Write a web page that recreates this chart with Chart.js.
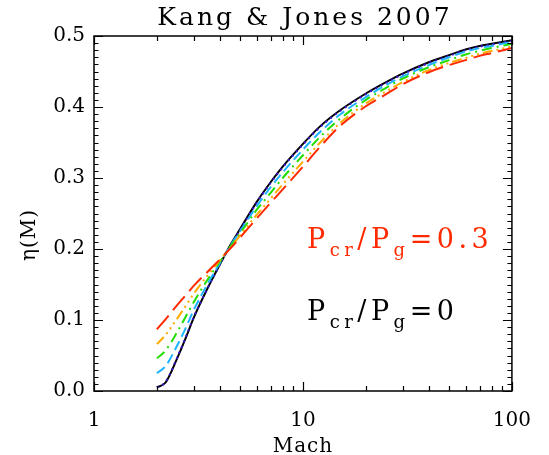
<!DOCTYPE html>
<html>
<head>
<meta charset="utf-8">
<script src="https://cdn.jsdelivr.net/npm/chart.js@4/dist/chart.umd.min.js"></script>
<style>
  html, body { margin: 0; padding: 0; background: #fff; }
  #wrap { width: 549px; height: 455px; }
</style>
</head>
<body>
<div id="wrap"><canvas id="etaChart" width="549" height="455"></canvas></div>
<script>
// ===== Data =====
const mach = [2, 2.2, 2.5, 2.75, 3, 3.5, 4, 4.5, 5, 6, 7, 8, 10, 12, 15, 20, 25, 30, 40, 50, 60, 70, 80, 100];

const etaBlack  = [0.005, 0.012, 0.046, 0.075, 0.103, 0.145, 0.178, 0.206, 0.228, 0.266, 0.294, 0.316, 0.348, 0.372, 0.395, 0.419, 0.435, 0.447, 0.463, 0.473, 0.481, 0.486, 0.489, 0.494];
const etaNavy   = [0.005, 0.013, 0.047, 0.076, 0.104, 0.145, 0.178, 0.205, 0.227, 0.265, 0.293, 0.315, 0.347, 0.371, 0.394, 0.418, 0.434, 0.446, 0.462, 0.472, 0.480, 0.485, 0.488, 0.493];
const etaCyan   = [0.025, 0.035, 0.064, 0.089, 0.114, 0.151, 0.180, 0.205, 0.225, 0.260, 0.287, 0.308, 0.340, 0.364, 0.389, 0.414, 0.431, 0.443, 0.459, 0.470, 0.478, 0.483, 0.486, 0.492];
const etaGreen  = [0.046, 0.057, 0.083, 0.105, 0.125, 0.157, 0.182, 0.204, 0.222, 0.255, 0.279, 0.300, 0.332, 0.357, 0.383, 0.410, 0.427, 0.440, 0.456, 0.466, 0.474, 0.479, 0.483, 0.489];
const etaOrange = [0.066, 0.079, 0.102, 0.120, 0.137, 0.163, 0.184, 0.202, 0.219, 0.248, 0.271, 0.291, 0.323, 0.349, 0.377, 0.405, 0.422, 0.435, 0.452, 0.462, 0.469, 0.475, 0.479, 0.485];
const etaRed    = [0.087, 0.101, 0.121, 0.135, 0.148, 0.168, 0.185, 0.201, 0.216, 0.243, 0.265, 0.284, 0.316, 0.343, 0.373, 0.401, 0.418, 0.432, 0.449, 0.459, 0.466, 0.472, 0.476, 0.483];

const xMajorTicks = [1, 10, 100];
const yMajorTicks = [0.0, 0.1, 0.2, 0.3, 0.4, 0.5];

const titleText = 'Kang & Jones 2007';
const xTitle = 'Mach';
const yTitle = 'η(M)';

// ===== Helpers =====
const SERIF = '"DejaVu Serif", "Liberation Serif", serif';
const toPoints = (ys) => mach.map((m, i) => ({ x: m, y: ys[i] }));

function line(label, ys, color, dash, order, width = 2) {
  return {
    label, data: toPoints(ys),
    borderColor: color, backgroundColor: color,
    borderWidth: width, borderDash: dash,
    pointRadius: 0, fill: false,
    cubicInterpolationMode: 'monotone',
    order
  };
}

// draws text with subscripts, parts = [[text, isSub], ...]
function drawRich(ctx, parts, x, y, size, color) {
  ctx.fillStyle = color;
  ctx.textAlign = 'left';
  ctx.textBaseline = 'alphabetic';
  parts.forEach(([t, sub]) => {
    ctx.font = `${sub ? Math.round(size * 0.68) : size}px ${SERIF}`;
    ctx.fillText(t, x, sub ? y + size * 0.3 : y);
    x += ctx.measureText(t).width;
  });
}

// ===== Frame, IDL-style inward ticks and texts =====
const idlFrame = {
  id: 'idlFrame',
  afterDraw(chart) {
    const { ctx, chartArea: a, scales: { x, y } } = chart;
    ctx.save();
    ctx.strokeStyle = '#000';
    ctx.lineWidth = 1.5;
    ctx.strokeRect(a.left, a.top, a.right - a.left, a.bottom - a.top);

    ctx.lineWidth = 1.2;
    ctx.beginPath();
    // y ticks (major every 0.1, minor every 0.01)
    for (let i = 0; i <= 50; i++) {
      const py = Math.round(y.getPixelForValue(i / 100)) + 0.5;
      const len = i % 10 === 0 ? 9 : 4.5;
      ctx.moveTo(a.left, py); ctx.lineTo(a.left + len, py);
      ctx.moveTo(a.right, py); ctx.lineTo(a.right - len, py);
    }
    // x ticks (log decades)
    [1, 10].forEach(dec => {
      for (let k = 1; k <= 10; k++) {
        const px = Math.round(x.getPixelForValue(k * dec)) + 0.5;
        const len = (k === 1 || k === 10) ? 9 : 5;
        ctx.moveTo(px, a.bottom); ctx.lineTo(px, a.bottom - len);
        ctx.moveTo(px, a.top); ctx.lineTo(px, a.top + len);
      }
    });
    ctx.stroke();

    // title
    ctx.fillStyle = '#000';
    ctx.textAlign = 'center';
    ctx.textBaseline = 'alphabetic';
    ctx.letterSpacing = '3px';
    ctx.font = `25px ${SERIF}`;
    ctx.fillText(titleText, (a.left + a.right) / 2 + 2, 25);

    // x title
    ctx.letterSpacing = '1px';
    ctx.font = `20px ${SERIF}`;
    ctx.fillText(xTitle, (a.left + a.right) / 2, 452);

    // y title
    ctx.save();
    ctx.translate(35, 235);
    ctx.rotate(-Math.PI / 2);
    ctx.font = `20px ${SERIF}`;
    ctx.fillText(yTitle, 0, 0);
    ctx.restore();

    // annotations
    ctx.letterSpacing = '4.5px';
    drawRich(ctx, [['P', false], ['cr', true], ['/P', false], ['g', true], ['=0.3', false]], 307, 248, 27, '#ff2a00');
    drawRich(ctx, [['P', false], ['cr', true], ['/P', false], ['g', true], ['=0', false]], 307, 320, 27, '#000');
    ctx.letterSpacing = '0px';
    ctx.restore();
  }
};

// ===== Chart =====
const chartEl = document.getElementById('etaChart');
new Chart(chartEl.getContext('2d'), {
  type: 'line',
  data: {
    datasets: [
      line('red',    etaRed,    '#ff2a00', [18, 7], 1),
      line('orange', etaOrange, '#ffaa00', [10, 4, 2, 4, 2, 4, 2, 4], 2),
      line('green',  etaGreen,  '#22dd00', [10, 5, 2, 5], 3),
      line('cyan',   etaCyan,   '#1eb4ff', [10, 5], 4),
      line('navy',   etaNavy,   '#3c14d2', [2, 4], 5),
      line('black',  etaBlack,  '#000000', [], 6)
    ]
  },
  options: {
    responsive: false, animation: false, events: [],
    layout: { padding: { top: 36, right: 27, left: 0, bottom: 0 } },
    plugins: { legend: { display: false }, tooltip: { enabled: false }, title: { display: false } },
    scales: {
      x: {
        type: 'logarithmic', min: 1, max: 100,
        grid: { display: false, drawTicks: false },
        border: { display: false },
        afterFit: (s) => { s.height = 64; },
        afterBuildTicks: (s) => { s.ticks = xMajorTicks.map(v => ({ value: v })); },
        ticks: {
          autoSkip: false, maxRotation: 0, padding: 18, color: '#000',
          font: { family: SERIF, size: 20 },
          callback: (v) => String(v)
        }
      },
      y: {
        min: 0, max: 0.5,
        grid: { display: false, drawTicks: false },
        border: { display: false },
        afterFit: (s) => { s.width = 94; },
        afterBuildTicks: (s) => { s.ticks = yMajorTicks.map(v => ({ value: v })); },
        ticks: {
          padding: 9, color: '#000',
          font: { family: SERIF, size: 20 },
          callback: (v) => Number(v).toFixed(1)
        }
      }
    }
  },
  plugins: [idlFrame]
});
</script>
</body>
</html>
